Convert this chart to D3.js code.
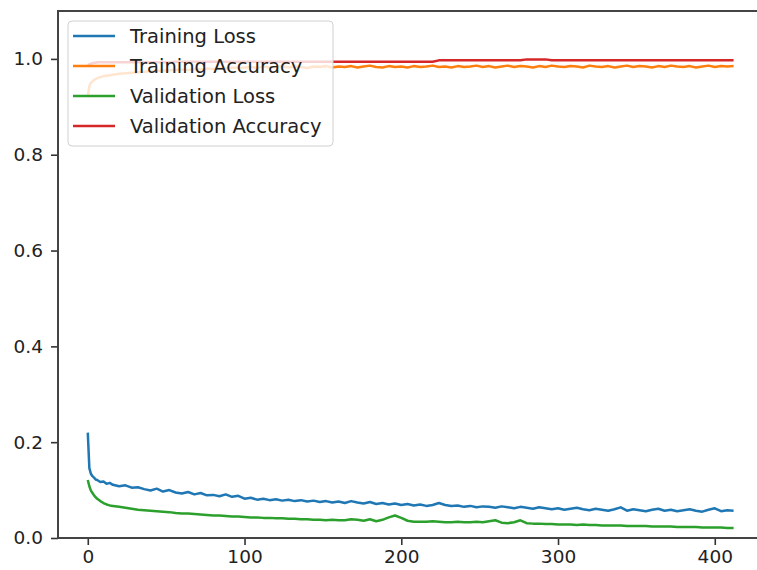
<!DOCTYPE html>
<html>
<head>
<meta charset="utf-8">
<script src="https://cdn.jsdelivr.net/npm/d3@7"></script>
<style>
    body { margin: 0; background: #fff; overflow: hidden; }
    svg { display: block; font-family: 'DejaVu Sans', sans-serif; }
</style>
</head>
<body>
<div id="result"></div>
<script>
// epochs the curves were read at (dense at the start, every 4 after)
const epochs = [
    0, 1, 2, 3, 4, 5, 6, 8, 10, 12, 14,
    16, 20, 24, 28, 32, 36, 40, 44, 48, 52, 56, 60, 64, 68, 72, 76, 80, 84, 88, 92, 96, 100,
    104, 108, 112, 116, 120, 124, 128, 132, 136, 140, 144, 148, 152, 156, 160, 164, 168, 172, 176, 180, 184, 188, 192, 196, 200,
    204, 208, 212, 216, 220, 224, 228, 232, 236, 240, 244, 248, 252, 256, 260, 264, 268, 272, 276, 280, 284, 288, 292, 296, 300,
    304, 308, 312, 316, 320, 324, 328, 332, 336, 340, 344, 348, 352, 356, 360, 364, 368, 372, 376, 380, 384, 388, 392, 396, 400, 404, 408, 412
];

const trainLoss = [
    0.220, 0.146, 0.134, 0.129, 0.126, 0.122, 0.121, 0.117, 0.118, 0.113, 0.115,
    0.111, 0.108, 0.110, 0.105, 0.106, 0.102, 0.099, 0.103, 0.097, 0.100, 0.095, 0.093, 0.096, 0.091, 0.094, 0.089, 0.090, 0.087, 0.091, 0.086, 0.088, 0.082,
    0.084, 0.080, 0.082, 0.079, 0.081, 0.078, 0.080, 0.077, 0.079, 0.076, 0.078, 0.075, 0.077, 0.074, 0.076, 0.073, 0.077, 0.074, 0.072, 0.075, 0.071, 0.073, 0.070, 0.072, 0.069,
    0.071, 0.068, 0.070, 0.067, 0.069, 0.073, 0.069, 0.067, 0.068, 0.065, 0.067, 0.064, 0.066, 0.065, 0.063, 0.066, 0.064, 0.062, 0.065, 0.063, 0.061, 0.064, 0.062, 0.060, 0.062,
    0.059, 0.061, 0.063, 0.060, 0.058, 0.061, 0.059, 0.057, 0.060, 0.064, 0.057, 0.060, 0.058, 0.056, 0.059, 0.061, 0.057, 0.059, 0.056, 0.058, 0.060, 0.057, 0.055, 0.059, 0.062, 0.056, 0.058, 0.057
];

const trainAcc = [
    0.920, 0.944, 0.950, 0.953, 0.956, 0.958, 0.960, 0.962, 0.964, 0.965, 0.966,
    0.967, 0.969, 0.970, 0.971, 0.972, 0.973, 0.974, 0.975, 0.976, 0.976, 0.977, 0.978, 0.977, 0.979, 0.978, 0.980, 0.979, 0.981, 0.980, 0.982, 0.981, 0.982,
    0.983, 0.981, 0.984, 0.982, 0.983, 0.985, 0.982, 0.984, 0.983, 0.981, 0.984, 0.983, 0.985, 0.982, 0.984, 0.983, 0.985, 0.982, 0.984, 0.986, 0.983, 0.982, 0.985, 0.983, 0.984,
    0.982, 0.985, 0.983, 0.984, 0.986, 0.983, 0.984, 0.982, 0.985, 0.983, 0.984, 0.986, 0.983, 0.985, 0.982, 0.984, 0.986, 0.983, 0.985, 0.984, 0.982, 0.985, 0.983, 0.986, 0.984,
    0.983, 0.985, 0.984, 0.982, 0.986, 0.984, 0.983, 0.985, 0.982, 0.984, 0.986, 0.983, 0.985, 0.984, 0.982, 0.985, 0.983, 0.986, 0.984, 0.983, 0.985, 0.982, 0.984, 0.986, 0.983, 0.985, 0.984, 0.985
];

const valLoss = [
    0.121, 0.108, 0.099, 0.094, 0.089, 0.085, 0.082, 0.077, 0.073, 0.070, 0.068,
    0.067, 0.065, 0.063, 0.061, 0.059, 0.058, 0.057, 0.056, 0.055, 0.054, 0.052, 0.051, 0.051, 0.050, 0.049, 0.048, 0.047, 0.047, 0.046, 0.045, 0.045, 0.044,
    0.043, 0.043, 0.042, 0.042, 0.041, 0.041, 0.040, 0.040, 0.039, 0.039, 0.038, 0.038, 0.037, 0.038, 0.037, 0.037, 0.039, 0.038, 0.036, 0.039, 0.035, 0.038, 0.043, 0.047, 0.042,
    0.036, 0.034, 0.034, 0.034, 0.035, 0.034, 0.033, 0.033, 0.034, 0.033, 0.033, 0.034, 0.033, 0.035, 0.037, 0.032, 0.031, 0.033, 0.037, 0.031, 0.030, 0.030, 0.029, 0.029, 0.028,
    0.028, 0.028, 0.027, 0.028, 0.027, 0.027, 0.026, 0.026, 0.026, 0.026, 0.025, 0.025, 0.025, 0.025, 0.024, 0.024, 0.024, 0.024, 0.023, 0.023, 0.023, 0.023, 0.022, 0.022, 0.022, 0.022, 0.021, 0.021
];

const valAcc = [
    0.985, 0.989, 0.990, 0.991, 0.992, 0.992, 0.993, 0.993, 0.993, 0.993, 0.993,
    0.993, 0.993, 0.993, 0.993, 0.993, 0.993, 0.993, 0.993, 0.993, 0.993, 0.994, 0.994, 0.994, 0.994, 0.994, 0.994, 0.994, 0.994, 0.994, 0.994, 0.994, 0.994,
    0.994, 0.994, 0.994, 0.994, 0.994, 0.994, 0.994, 0.994, 0.994, 0.994, 0.994, 0.994, 0.994, 0.994, 0.994, 0.994, 0.994, 0.994, 0.994, 0.994, 0.994, 0.994, 0.994, 0.994, 0.994,
    0.994, 0.994, 0.994, 0.994, 0.994, 0.997, 0.997, 0.997, 0.997, 0.997, 0.997, 0.997, 0.997, 0.997, 0.997, 0.997, 0.997, 0.997, 0.997, 0.999, 0.999, 0.999, 0.999, 0.997, 0.997,
    0.997, 0.997, 0.997, 0.997, 0.997, 0.997, 0.997, 0.997, 0.997, 0.997, 0.997, 0.997, 0.997, 0.997, 0.997, 0.997, 0.997, 0.997, 0.997, 0.997, 0.997, 0.997, 0.997, 0.997, 0.997, 0.997, 0.997, 0.997
];

const seriesNames = ['Training Loss', 'Training Accuracy', 'Validation Loss', 'Validation Accuracy'];
const seriesColors = ['#1f77b4', '#ff7f0e', '#2ca02c', '#d62728'];
const seriesValues = [trainLoss, trainAcc, valLoss, valAcc];

const xTicks = [0, 100, 200, 300, 400];
const yTicks = [0.0, 0.2, 0.4, 0.6, 0.8, 1.0];

const width = 757;
const height = 570;
const plot = { left: 58, right: 766.5, top: 11, bottom: 538 };
const tickFont = 18.5;
const legendFont = 19.5;

const svg = d3.select('#result')
    .append('svg')
    .attr('width', width)
    .attr('height', height);

const xScale = d3.scaleLinear()
    .domain([-19, 433])
    .range([plot.left, plot.right]);

const yScale = d3.scaleLinear()
    .domain([0, 1.1])
    .range([plot.bottom, plot.top]);

// the curves, in the order matplotlib drew them
const line = d3.line()
    .x(d => xScale(d[0]))
    .y(d => yScale(d[1]));

const linesG = svg.append('g');
seriesValues.forEach((vals, i) => {
    linesG.append('path')
        .datum(d3.zip(epochs, vals))
        .attr('fill', 'none')
        .attr('stroke', seriesColors[i])
        .attr('stroke-width', 2.5)
        .attr('stroke-linejoin', 'round')
        .attr('d', line);
});

// axes
const xAxis = d3.axisBottom(xScale)
    .tickValues(xTicks)
    .tickSize(7)
    .tickPadding(5)
    .tickFormat(d3.format('d'));

const yAxis = d3.axisLeft(yScale)
    .tickValues(yTicks)
    .tickSize(7)
    .tickPadding(8)
    .tickFormat(d3.format('.1f'));

const xAxisG = svg.append('g')
    .attr('transform', `translate(0, ${plot.bottom})`)
    .call(xAxis);

const yAxisG = svg.append('g')
    .attr('transform', `translate(${plot.left}, 0)`)
    .call(yAxis);

for (const axisG of [xAxisG, yAxisG]) {
    axisG.select('.domain').remove();
    axisG.selectAll('line').attr('stroke', '#333').attr('stroke-width', 1.6);
    axisG.selectAll('text')
        .attr('fill', '#222')
        .style('font-family', "'DejaVu Sans', sans-serif")
        .style('font-size', tickFont + 'px');
}

// spines: left, top, bottom (the right one is cut off in the picture)
const spines = [
    [plot.left, plot.top, plot.left, plot.bottom],
    [plot.left, plot.top, width, plot.top],
    [plot.left, plot.bottom, width, plot.bottom]
];
svg.append('g')
    .selectAll('line')
    .data(spines)
    .enter()
    .append('line')
        .attr('x1', d => d[0])
        .attr('y1', d => d[1])
        .attr('x2', d => d[2])
        .attr('y2', d => d[3])
        .attr('stroke', '#444')
        .attr('stroke-width', 2)
        .attr('stroke-linecap', 'square');

// legend
const legend = svg.append('g')
    .attr('transform', 'translate(68, 21)');

legend.append('rect')
    .attr('width', 265)
    .attr('height', 125)
    .attr('rx', 4)
    .attr('fill', '#fff')
    .attr('fill-opacity', 0.8)
    .attr('stroke', '#d0d0d0')
    .attr('stroke-width', 1);

seriesNames.forEach((name, i) => {
    const row = legend.append('g')
        .attr('transform', `translate(0, ${15 + i * 30})`);
    row.append('line')
        .attr('x1', 5)
        .attr('x2', 47)
        .attr('stroke', seriesColors[i])
        .attr('stroke-width', 2.5);
    row.append('text')
        .attr('x', 62)
        .attr('dy', '0.35em')
        .attr('fill', '#222')
        .style('font-size', legendFont + 'px')
        .text(name);
});
</script>
</body>
</html>
